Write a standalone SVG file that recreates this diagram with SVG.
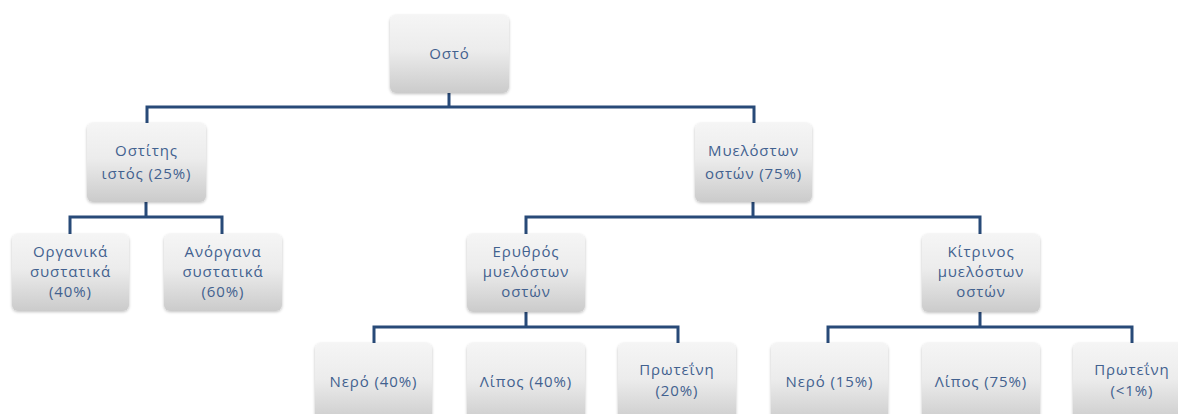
<svg xmlns="http://www.w3.org/2000/svg" width="1178" height="414" viewBox="0 0 1178 414">
<defs>
<linearGradient id="g" x1="0" y1="0" x2="0" y2="1">
<stop offset="0" stop-color="#f5f5f5"/>
<stop offset="0.45" stop-color="#ececec"/>
<stop offset="1" stop-color="#cbcbcb"/>
</linearGradient>
<filter id="sh" x="-10%" y="-10%" width="120%" height="130%">
<feGaussianBlur in="SourceAlpha" stdDeviation="1.5"/>
<feOffset dx="0" dy="1" result="b"/>
<feComponentTransfer><feFuncA type="linear" slope="0.25"/></feComponentTransfer>
<feMerge><feMergeNode/><feMergeNode in="SourceGraphic"/></feMerge>
</filter>
</defs>
<style>
.box{fill:url(#g);filter:url(#sh)}
.t{font-family:"Open Sans","Noto Sans","Liberation Sans",sans-serif;font-size:15px;letter-spacing:0.9px;fill:#42618f;text-anchor:middle}
.c{fill:none;stroke:#284a78;stroke-width:3;stroke-linejoin:miter}
</style>
<rect width="1178" height="414" fill="#ffffff"/>
<g id="connectors">
<path class="c" d="M449 93V107M147 123V107H754V123"/>
<path class="c" d="M146 202V217M70 234V217H222V234"/>
<path class="c" d="M753 202V217M526 234V217H980V234"/>
<path class="c" d="M526 312V327M374 343V327H678V343"/>
<path class="c" d="M980 312V327M828 343V327H1132V343"/>
</g>
<g id="n-osto"><rect class="box" x="390" y="15" width="119" height="78" rx="6"/><text class="t" x="449.5" y="59">Οστό</text></g>
<g id="n-ostitis"><rect class="box" x="87" y="123" width="119" height="79" rx="6"/><text class="t" x="146.5" y="156">Οστίτης</text><text class="t" x="146.5" y="179">ιστός (25%)</text></g>
<g id="n-myelos"><rect class="box" x="695" y="123" width="117" height="79" rx="6"/><text class="t" x="753.5" y="156">Μυελόστων</text><text class="t" x="753.5" y="179">οστών (75%)</text></g>
<g id="n-organika"><rect class="box" x="12" y="234" width="117" height="77" rx="6"/><text class="t" x="70.5" y="257">Οργανικά</text><text class="t" x="70.5" y="277">συστατικά</text><text class="t" x="70.5" y="297">(40%)</text></g>
<g id="n-anorgana"><rect class="box" x="164" y="234" width="118" height="77" rx="6"/><text class="t" x="223" y="257">Ανόργανα</text><text class="t" x="223" y="277">συστατικά</text><text class="t" x="223" y="297">(60%)</text></g>
<g id="n-erythros"><rect class="box" x="467" y="234" width="118" height="78" rx="6"/><text class="t" x="526" y="257">Ερυθρός</text><text class="t" x="526" y="277">μυελόστων</text><text class="t" x="526" y="297">οστών</text></g>
<g id="n-kitrinos"><rect class="box" x="922" y="234" width="118" height="78" rx="6"/><text class="t" x="981" y="257">Κίτρινος</text><text class="t" x="981" y="277">μυελόστων</text><text class="t" x="981" y="297">οστών</text></g>
<g id="n-nero1"><rect class="box" x="315" y="343" width="117" height="80" rx="6"/><text class="t" x="373.5" y="387">Νερό (40%)</text></g>
<g id="n-lipos1"><rect class="box" x="467" y="343" width="118" height="80" rx="6"/><text class="t" x="526" y="387">Λίπος (40%)</text></g>
<g id="n-protein1"><rect class="box" x="618" y="343" width="118" height="80" rx="6"/><text class="t" x="677" y="375">Πρωτεΐνη</text><text class="t" x="677" y="396">(20%)</text></g>
<g id="n-nero2"><rect class="box" x="771" y="343" width="117" height="80" rx="6"/><text class="t" x="829.5" y="387">Νερό (15%)</text></g>
<g id="n-lipos2"><rect class="box" x="922" y="343" width="118" height="80" rx="6"/><text class="t" x="981" y="387">Λίπος (75%)</text></g>
<g id="n-protein2"><rect class="box" x="1073" y="343" width="118" height="80" rx="6"/><text class="t" x="1132" y="375">Πρωτεΐνη</text><text class="t" x="1132" y="396">(&lt;1%)</text></g>
</svg>
